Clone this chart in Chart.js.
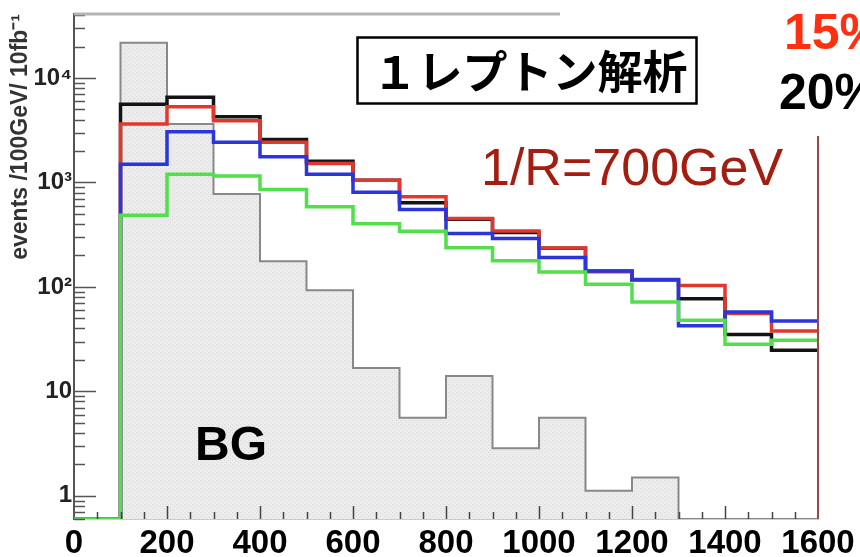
<!DOCTYPE html>
<html>
<head>
<meta charset="utf-8">
<script src="https://cdn.jsdelivr.net/npm/chart.js@4.4.1/dist/chart.umd.min.js"></script>
<style>
  body { margin: 0; background: #fff; }
  #wrap { width: 860px; height: 557px; }
</style>
</head>
<body>
<div id="wrap"><canvas id="histChart" width="860" height="557"></canvas></div>
<script>
// lower edges of the 100 GeV bins
const binEdges = [0, 100, 200, 300, 400, 500, 600, 700, 800, 900, 1000, 1100, 1200, 1300, 1400, 1500];
const xMax = 1600;
const yMin = 0.6;
const yMax = 41000;

// events / 100GeV / 10fb^-1 per bin
const bgEvents    = [0, 21800, 3620, 775, 176, 93, 16.7, 5.6, 14, 2.85, 5.6, 1.12, 1.5, 0, 0, 0];
const blackEvents = [0, 5600, 6530, 4250, 2580, 1600, 1050, 640, 445, 332, 234, 141, 116, 77, 35, 24.7];
const redEvents   = [0, 3620, 5310, 3900, 2420, 1520, 1050, 728, 452, 343, 236, 140, 116, 103, 55.8, 37.8];
const blueEvents  = [0, 1490, 3055, 2420, 1760, 1200, 807, 551, 324, 290, 191, 142, 118, 42.4, 57.4, 47.1];
const greenEvents = [0, 486, 1200, 1150, 857, 584, 403, 341, 237, 178, 139, 106, 71.6, 47.9, 28.2, 30.8];

const yTickValues = [1, 10, 100, 1000, 10000];
const yTickLabels = ['1', '10', '10²', '10³', '10⁴'];

// empty bins sit on the bottom of the log axis
function steps(values) {
    let pts = binEdges.map((x, i) => ({ x: x, y: values[i] > 0 ? values[i] : yMin }));
    pts.push({ x: xMax, y: pts[pts.length - 1].y });
    return pts;
}

function histLine(label, values, color, order) {
    return {
        label: label,
        data: steps(values),
        borderColor: color,
        borderWidth: 3.5,
        stepped: 'before',
        pointRadius: 0,
        fill: false,
        order: order
    };
}

// fine dotted grey fill for the background histogram
function bgPattern() {
    const c = document.createElement('canvas');
    c.width = 4; c.height = 4;
    const g = c.getContext('2d');
    g.fillStyle = '#ececec';
    g.fillRect(0, 0, 4, 4);
    g.fillStyle = '#d9d9d9';
    g.fillRect(0, 0, 1, 1);
    g.fillRect(2, 2, 1, 1);
    return g.createPattern(c, 'repeat');
}

const decorations = {
    id: 'decorations',
    afterDatasetsDraw(chart) {
        const ctx = chart.ctx;
        const area = chart.chartArea;
        const xs = chart.scales.x, ys = chart.scales.y;
        ctx.save();
        // inward ticks on the y axis
        ctx.strokeStyle = '#555';
        ctx.lineWidth = 1.5;
        for (let k = -1; k <= 4; k++) {
            for (let m = 1; m <= 9; m++) {
                let v = m * Math.pow(10, k);
                if (v < ys.min || v > ys.max) continue;
                let y = Math.round(ys.getPixelForValue(v)) + 0.5;
                let len = m === 1 ? 22 : 11;
                ctx.beginPath();
                ctx.moveTo(area.left, y);
                ctx.lineTo(area.left + len, y);
                ctx.stroke();
            }
        }
        // inward ticks on the x axis
        ctx.strokeStyle = '#444';
        for (let v = 50; v < xMax; v += 50) {
            let x = Math.round(xs.getPixelForValue(v)) + 0.5;
            let len = v % 200 === 0 ? 13 : 7;
            ctx.beginPath();
            ctx.moveTo(x, area.bottom);
            ctx.lineTo(x, area.bottom - len);
            ctx.stroke();
        }
        ctx.restore();
    },
    afterDraw(chart) {
        const ctx = chart.ctx;
        const area = chart.chartArea;
        ctx.save();
        // top and right frame
        ctx.strokeStyle = '#b4b4b4';
        ctx.lineWidth = 3;
        ctx.beginPath();
        ctx.moveTo(area.left, area.top);
        ctx.lineTo(area.right, area.top);
        ctx.stroke();
        ctx.strokeStyle = '#9a4a46';
        ctx.lineWidth = 2;
        ctx.beginPath();
        ctx.moveTo(area.right, area.top);
        ctx.lineTo(area.right, area.bottom);
        ctx.stroke();

        // blank corner behind the percentages
        ctx.fillStyle = '#fff';
        ctx.fillRect(560, 0, 300, 136);

        // title box
        ctx.fillStyle = '#fff';
        ctx.fillRect(357, 37, 340, 67);
        ctx.strokeStyle = '#000';
        ctx.lineWidth = 2.5;
        ctx.strokeRect(357.5, 37.5, 339, 66);
        ctx.fillStyle = '#000';
        ctx.font = "bold 45px 'Noto Sans CJK JP'";
        ctx.textAlign = 'center';
        ctx.textBaseline = 'middle';
        ctx.fillText('１レプトン解析', 530, 72);

        ctx.textAlign = 'left';
        ctx.textBaseline = 'alphabetic';
        ctx.fillStyle = '#a31d10';
        ctx.font = "52px 'Liberation Sans', Arial, sans-serif";
        ctx.fillText('1/R=700GeV', 481, 185);

        ctx.font = "bold 50px 'Liberation Sans', Arial, sans-serif";
        ctx.fillStyle = '#ff3010';
        ctx.fillText('15%', 784, 49);
        ctx.fillStyle = '#000';
        ctx.fillText('20%', 779, 109);

        ctx.font = "bold 48px 'Liberation Sans', Arial, sans-serif";
        ctx.fillText('BG', 195, 460);
        ctx.restore();
    }
};

Chart.defaults.font.family = "'Liberation Sans', Arial, sans-serif";

const ctx = document.getElementById('histChart').getContext('2d');
const histChart = new Chart(ctx, {
    type: 'line',
    data: {
        datasets: [
            histLine('green', greenEvents, '#52df4b', 0),
            histLine('blue', blueEvents, '#2a35dc', 1),
            histLine('red', redEvents, '#e2372c', 2),
            histLine('black', blackEvents, '#141414', 3),
            {
                label: 'BG',
                data: steps(bgEvents),
                borderColor: '#888',
                borderWidth: 2,
                backgroundColor: bgPattern(),
                stepped: 'before',
                pointRadius: 0,
                fill: 'start',
                order: 4
            }
        ]
    },
    options: {
        responsive: false,
        animation: false,
        layout: { padding: { top: 14, right: 42, left: 0, bottom: 0 } },
        plugins: {
            legend: { display: false },
            tooltip: { enabled: false }
        },
        scales: {
            x: {
                type: 'linear',
                min: 0,
                max: xMax,
                grid: { display: false, drawTicks: false },
                border: { color: '#c98a84', width: 1.5 },
                ticks: {
                    stepSize: 200,
                    autoSkip: false,
                    maxRotation: 0,
                    padding: 5,
                    color: '#000',
                    font: { size: 33, weight: 'bold' },
                    callback: v => String(v)
                },
                afterFit(scale) {
                    scale.height = 38;
                    scale.paddingLeft = 0;
                    scale.paddingRight = 0;
                }
            },
            y: {
                type: 'logarithmic',
                min: yMin,
                max: yMax,
                grid: { display: false, drawTicks: false },
                border: { color: '#555', width: 2 },
                afterBuildTicks(scale) {
                    scale.ticks = yTickValues.map(v => ({ value: v }));
                },
                ticks: {
                    callback: function (v) {
                        let i = yTickValues.indexOf(v);
                        return i < 0 ? '' : yTickLabels[i];
                    },
                    padding: 2,
                    color: '#222',
                    font: { size: 24, weight: 'bold' }
                },
                title: {
                    display: true,
                    text: 'events /100GeV/ 10fb⁻¹',
                    align: 'end',
                    color: '#333',
                    font: { size: 23, weight: 'bold' },
                    padding: { top: 7, bottom: 0 }
                },
                afterFit(scale) {
                    scale.width = 74;
                    scale.paddingTop = 0;
                    scale.paddingBottom = 0;
                }
            }
        }
    },
    plugins: [decorations]
});
</script>
</body>
</html>
